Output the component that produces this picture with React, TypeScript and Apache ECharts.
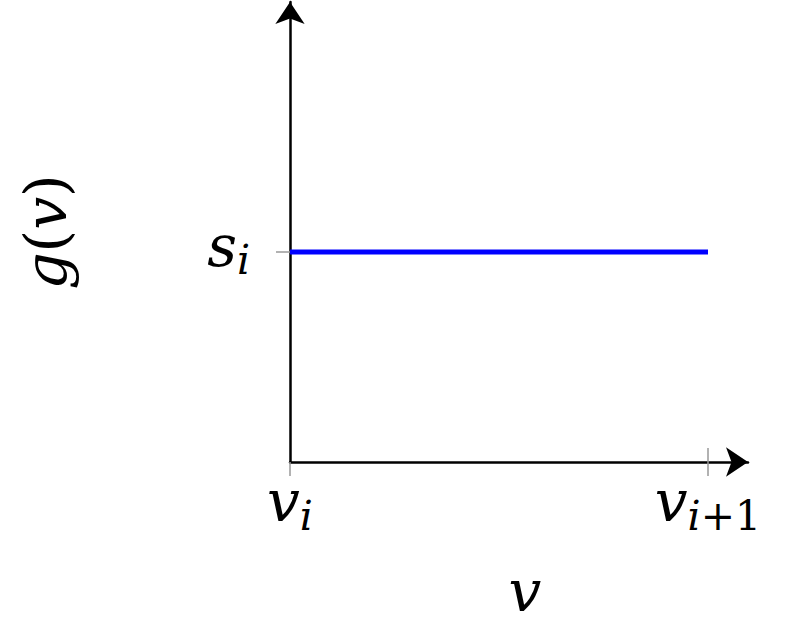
import React, { useEffect, useRef } from "react";
import * as echarts from "echarts";

// Data
const xTickValues = [0, 1];
const xTickLabels = ["{a|v}{b|i}", "{a|v}{b|i}{c|+1}"];
const yTickValues = [1];
const yTickLabels = ["{a|s}{b|i}"];
const seriesX = [0, 1];
const seriesY = [1, 1];
const xName = "{a|v}";
const yName = "{a|g}{c|(}{a|v}{c|)}";
const X_MAX = 1.0957;
const Y_MAX = 2.19;

const FONT = '"DejaVu Serif"';
const MAIN = 58;
const SUB = 41;
const SLANT = "oblique";

const rich = {
  a: { fontFamily: FONT, fontStyle: SLANT, fontSize: MAIN, lineHeight: MAIN, color: "#000", verticalAlign: "bottom", padding: [0, 0, 6, 0] },
  b: { fontFamily: FONT, fontStyle: SLANT, fontSize: SUB, lineHeight: SUB, color: "#000", verticalAlign: "bottom" },
  c: { fontFamily: FONT, fontStyle: "normal", fontSize: SUB, lineHeight: SUB, color: "#000", verticalAlign: "bottom" },
};
const richName = {
  a: { fontFamily: FONT, fontStyle: SLANT, fontSize: MAIN, lineHeight: MAIN, color: "#000", verticalAlign: "bottom" },
  c: { fontFamily: FONT, fontStyle: "normal", fontSize: MAIN, lineHeight: MAIN, color: "#000", verticalAlign: "bottom" },
};

export default function App() {
  const ref = useRef<HTMLDivElement>(null);
  useEffect(() => {
    if (!ref.current) return;
    const chart = echarts.init(ref.current, null, { renderer: "svg" });
    const tickColor = "#999";
    chart.setOption({
      animation: false,
      backgroundColor: "#fff",
      textStyle: { fontFamily: FONT },
      grid: { left: 290, top: 2, right: 44, bottom: 175, containLabel: false },
      xAxis: [
        {
          type: "value",
          min: 0,
          max: X_MAX,
          position: "bottom",
          name: xName,
          nameLocation: "middle",
          nameGap: 100,
          nameTextStyle: { fontFamily: FONT, rich: richName, padding: [0, 0, 0, 12] },
          axisLine: { show: true, onZero: false, lineStyle: { color: "#000", width: 2.5 }, symbol: ["none", "arrow"], symbolSize: [22, 22] },
          axisTick: { show: true, inside: false, length: 14, customValues: xTickValues, lineStyle: { color: tickColor, width: 1.5 } },
          axisLabel: {
            show: true,
            fontFamily: FONT,
            customValues: xTickValues,
            margin: 16,
            formatter: (v: number) => xTickLabels[xTickValues.indexOf(v)] ?? "",
            rich,
          },
          splitLine: { show: false },
        },
        {
          type: "value",
          min: 0,
          max: X_MAX,
          position: "bottom",
          axisLine: { show: false, onZero: false },
          axisTick: { show: true, inside: true, length: 14, customValues: [xTickValues[1]], lineStyle: { color: tickColor, width: 1.5 } },
          axisLabel: { show: false },
          splitLine: { show: false },
        },
      ],
      yAxis: {
        type: "value",
        min: 0,
        max: Y_MAX,
        name: yName,
        nameLocation: "middle",
        nameRotate: 90,
        nameGap: 215,
        nameTextStyle: { fontFamily: FONT, rich: richName },
        axisLine: { show: true, onZero: false, lineStyle: { color: "#000", width: 2.5 }, symbol: ["none", "arrow"], symbolSize: [22, 22] },
        axisTick: { show: true, inside: false, length: 14, customValues: yTickValues, lineStyle: { color: tickColor, width: 1.5 } },
        axisLabel: {
          show: true,
          fontFamily: FONT,
          customValues: yTickValues,
          margin: 40,
          formatter: (v: number) => yTickLabels[yTickValues.indexOf(v)] ?? "",
          rich,
        },
        splitLine: { show: false },
      },
      series: [
        {
          type: "line",
          data: seriesX.map((x, i) => [x, seriesY[i]]),
          showSymbol: false,
          symbol: "none",
          lineStyle: { color: "#0000ff", width: 5 },
          z: 1,
        },
      ],
    });
    return () => chart.dispose();
  }, []);
  return <div ref={ref} style={{ position: "fixed", left: 0, top: 0, width: 792, height: 637 }} />;
}
